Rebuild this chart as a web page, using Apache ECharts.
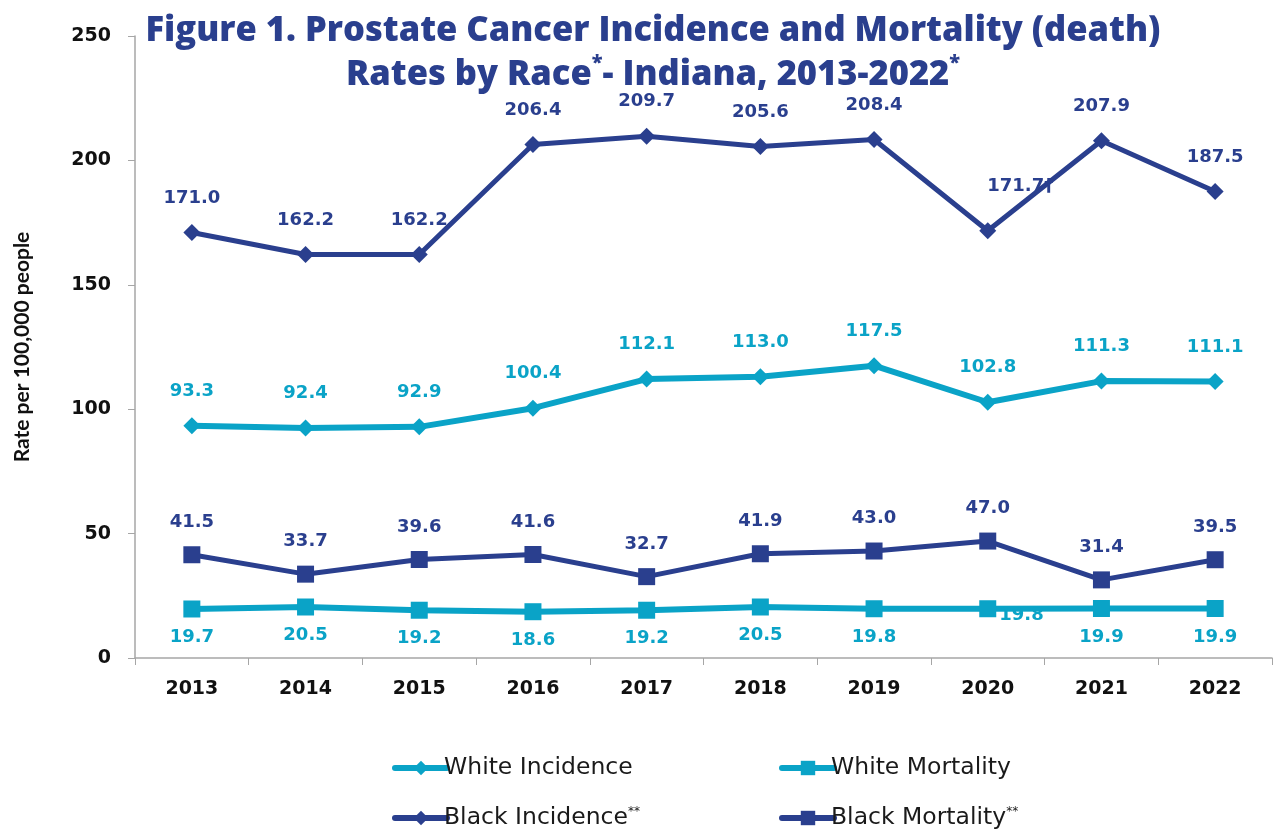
<!DOCTYPE html>
<html><head><meta charset="utf-8">
<script src="https://cdn.jsdelivr.net/npm/echarts@6/dist/echarts.min.js"></script>
<style>html,body{margin:0;padding:0;background:#fff}#c{width:1275px;height:829px}</style>
</head><body><div id="c"></div>
<script>
const years = ['2013','2014','2015','2016','2017','2018','2019','2020','2021','2022'];
const whiteIncidence = [93.3,92.4,92.9,100.4,112.1,113.0,117.5,102.8,111.3,111.1];
const whiteMortality = [19.7,20.5,19.2,18.6,19.2,20.5,19.8,19.8,19.9,19.9];
const blackIncidence = [171.0,162.2,162.2,206.4,209.7,205.6,208.4,171.7,207.9,187.5];
const blackMortality = [41.5,33.7,39.6,41.6,32.7,41.9,43.0,47.0,31.4,39.5];
const yTicks = [0,50,100,150,200,250];

const LIGHT = '#0AA3C7', DARK = '#2A3F8E';
const labelFont = {fontFamily:'DejaVu Sans', fontWeight:'bold', fontSize:18};

function lbl(color, pos, dist){
  return Object.assign({show:true, position:pos, distance:dist, color:color, formatter:p=>p.value.toFixed(1)}, labelFont);
}
const blackIncData = blackIncidence.map((v,i)=> i===7 ? {value:v, label:{position:[8,-45], align:'left', formatter:p=>p.value.toFixed(1)+'†'}} : v);
const whiteMortData = whiteMortality.map((v,i)=> i===7 ? {value:v, label:{position:[20,6], align:'left'}} : v);

const chart = echarts.init(document.getElementById('c'));
const legendBase = {itemWidth:52, itemHeight:18, itemGap:0, lineStyle:{width:6, cap:'round'},
  textStyle:{fontFamily:'DejaVu Sans', fontSize:23.5, color:'#1a1a1a', padding:[0,0,0,-8], rich:{sup:{fontSize:12, verticalAlign:'top', padding:[0,0,12,0], color:'#1a1a1a', fontFamily:'DejaVu Sans'}}},
  formatter: n => n.replace('**','{sup|**}')};
chart.setOption({
  animation:false,
  title:{
    text:'Figure 1. Prostate Cancer Incidence and Mortality (death)\nRates by Race{s|*}- Indiana, 2013-2022{s|*}',
    left:648, textAlign:'center', top:4,
    textStyle:{fontFamily:'Open Sans', fontWeight:800, fontSize:34.5, color:DARK, lineHeight:44,
      rich:{s:{fontFamily:'Open Sans', fontWeight:800, fontSize:20, color:DARK, verticalAlign:'top', lineHeight:44, padding:[0,0,14,0]}}}
  },
  legend:[
    Object.assign({data:['White Incidence'], left:387, top:751}, legendBase),
    Object.assign({data:['White Mortality'], left:774, top:751}, legendBase),
    Object.assign({data:['Black Incidence**'], left:387, top:801}, legendBase),
    Object.assign({data:['Black Mortality**'], left:774, top:801}, legendBase)
  ],
  grid:{left:135, right:3, top:36, bottom:171},
  xAxis:{type:'category', data:years, boundaryGap:true,
    axisLine:{lineStyle:{color:'#A6A6A6', width:1.5}},
    axisTick:{show:true, length:7, lineStyle:{color:'#A6A6A6'}},
    axisLabel:{margin:22, color:'#111', fontFamily:'DejaVu Sans', fontWeight:'bold', fontSize:19}},
  yAxis:{type:'value', min:0, max:250, interval:50,
    name:'Rate per 100,000 people', nameLocation:'middle', nameGap:102, nameRotate:90,
    nameTextStyle:{fontFamily:'Lato', fontWeight:'bold', fontSize:21, color:'#111'},
    axisLine:{show:true, lineStyle:{color:'#A6A6A6', width:1.5}},
    axisTick:{show:true, length:7, inside:false, lineStyle:{color:'#A6A6A6'}},
    splitLine:{show:false},
    axisLabel:{margin:24, color:'#111', fontFamily:'DejaVu Sans', fontWeight:'bold', fontSize:19,
      formatter:v=> yTicks.includes(v)? String(v):''}},
  series:[
    {name:'White Incidence', type:'line', data:whiteIncidence, symbol:'diamond', symbolSize:17,
      lineStyle:{width:6, color:LIGHT}, itemStyle:{color:LIGHT}, label:lbl(LIGHT,'top',17), z:3},
    {name:'White Mortality', type:'line', data:whiteMortData, symbol:'rect', symbolSize:17,
      lineStyle:{width:6, color:LIGHT}, itemStyle:{color:LIGHT}, label:lbl(LIGHT,'bottom',11), z:2},
    {name:'Black Incidence**', type:'line', data:blackIncData, symbol:'diamond', symbolSize:17,
      lineStyle:{width:5, color:DARK}, itemStyle:{color:DARK}, label:lbl(DARK,'top',17), z:4},
    {name:'Black Mortality**', type:'line', data:blackMortality, symbol:'rect', symbolSize:17,
      lineStyle:{width:5, color:DARK}, itemStyle:{color:DARK}, label:lbl(DARK,'top',15), z:3}
  ]
});
</script></body></html>
